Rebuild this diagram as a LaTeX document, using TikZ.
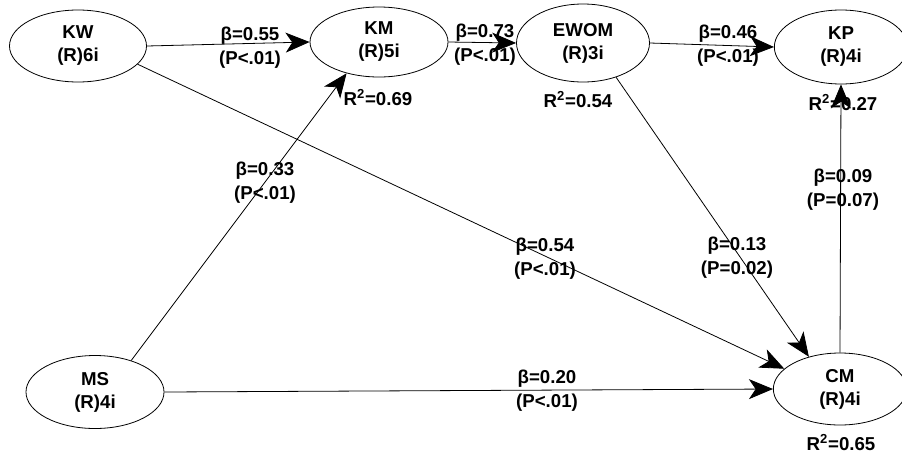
\documentclass[tikz,border=0pt]{standalone}
\usepackage{fontspec}
\setmainfont{Liberation Sans}
\usetikzlibrary{arrows.meta,shapes.geometric}
\begin{document}
\begin{tikzpicture}[x=0.75pt,y=-0.75pt,
  lat/.style={draw,ellipse,line width=0.6pt,inner sep=0pt,align=center,
    font=\fontsize{14}{17.25}\selectfont\bfseries},
  lbl/.style={inner sep=0pt,align=center,font=\fontsize{14}{18}\selectfont\bfseries},
  rsq/.style={inner sep=0pt,font=\fontsize{14}{16}\selectfont\bfseries},
  arr/.style={line width=0.6pt,-{Stealth[length=18pt,width=15pt,inset=5pt]}}]
\useasboundingbox (0,0) rectangle (902,454);
% latent variables
\node[lat,minimum width=102.75pt,minimum height=54pt] (KW) at (78,46) {KW\\(R)6i};
\node[lat,minimum width=103.5pt,minimum height=52.5pt] (KM) at (379,42) {KM\\(R)5i};
\node[lat,minimum width=99.75pt,minimum height=58.5pt] (EWOM) at (583,43) {EWOM\\(R)3i};
\node[lat,minimum width=100pt,minimum height=55.5pt] (KP) at (841,47) {KP\\(R)4i};
\node[lat,minimum width=103.5pt,minimum height=54.75pt] (MS) at (95,392) {MS\\(R)4i};
\node[lat,minimum width=100pt,minimum height=54pt] (CM) at (840,389) {CM\\(R)4i};
% paths
\draw[arr] (KW.east) -- (KM.west);
\draw[arr] (KM.east) -- (EWOM.west);
\draw[arr] (EWOM.east) -- (KP.west);
\draw[arr] (MS.41) -- (KM.224);
\draw[arr] (KW.343) -- (CM.160);
\draw[arr] (EWOM.314) -- (CM.134);
\draw[arr] (MS.east) -- (CM.west);
\draw[arr] (CM.north) -- (KP.south);
% coefficients
\node[lbl] (l1) at (250,48) {β=0.55\\(P<.01)};
\node[lbl] (l2) at (485,45) {β=0.73\\(P<.01)};
\node[lbl] (l3) at (728,46) {β=0.46\\(P<.01)};
\node[lbl] (l4) at (265,183) {β=0.33\\(P<.01)};
\node[lbl] (l5) at (545,259) {β=0.54\\(P<.01)};
\node[lbl] (l6) at (737,258) {β=0.13\\(P=0.02)};
\node[lbl] (l7) at (843,190) {β=0.09\\(P=0.07)};
\node[lbl] (l8) at (547,391) {β=0.20\\(P<.01)};
% R squared
\node[rsq] (r1) at (378,98) {R\textsuperscript{2}=0.69};
\node[rsq] (r2) at (578,100) {R\textsuperscript{2}=0.54};
\node[rsq] (r3) at (843,103) {R\textsuperscript{2}=0.27};
\node[rsq] (r4) at (841,443) {R\textsuperscript{2}=0.65};
\end{tikzpicture}
\end{document}
